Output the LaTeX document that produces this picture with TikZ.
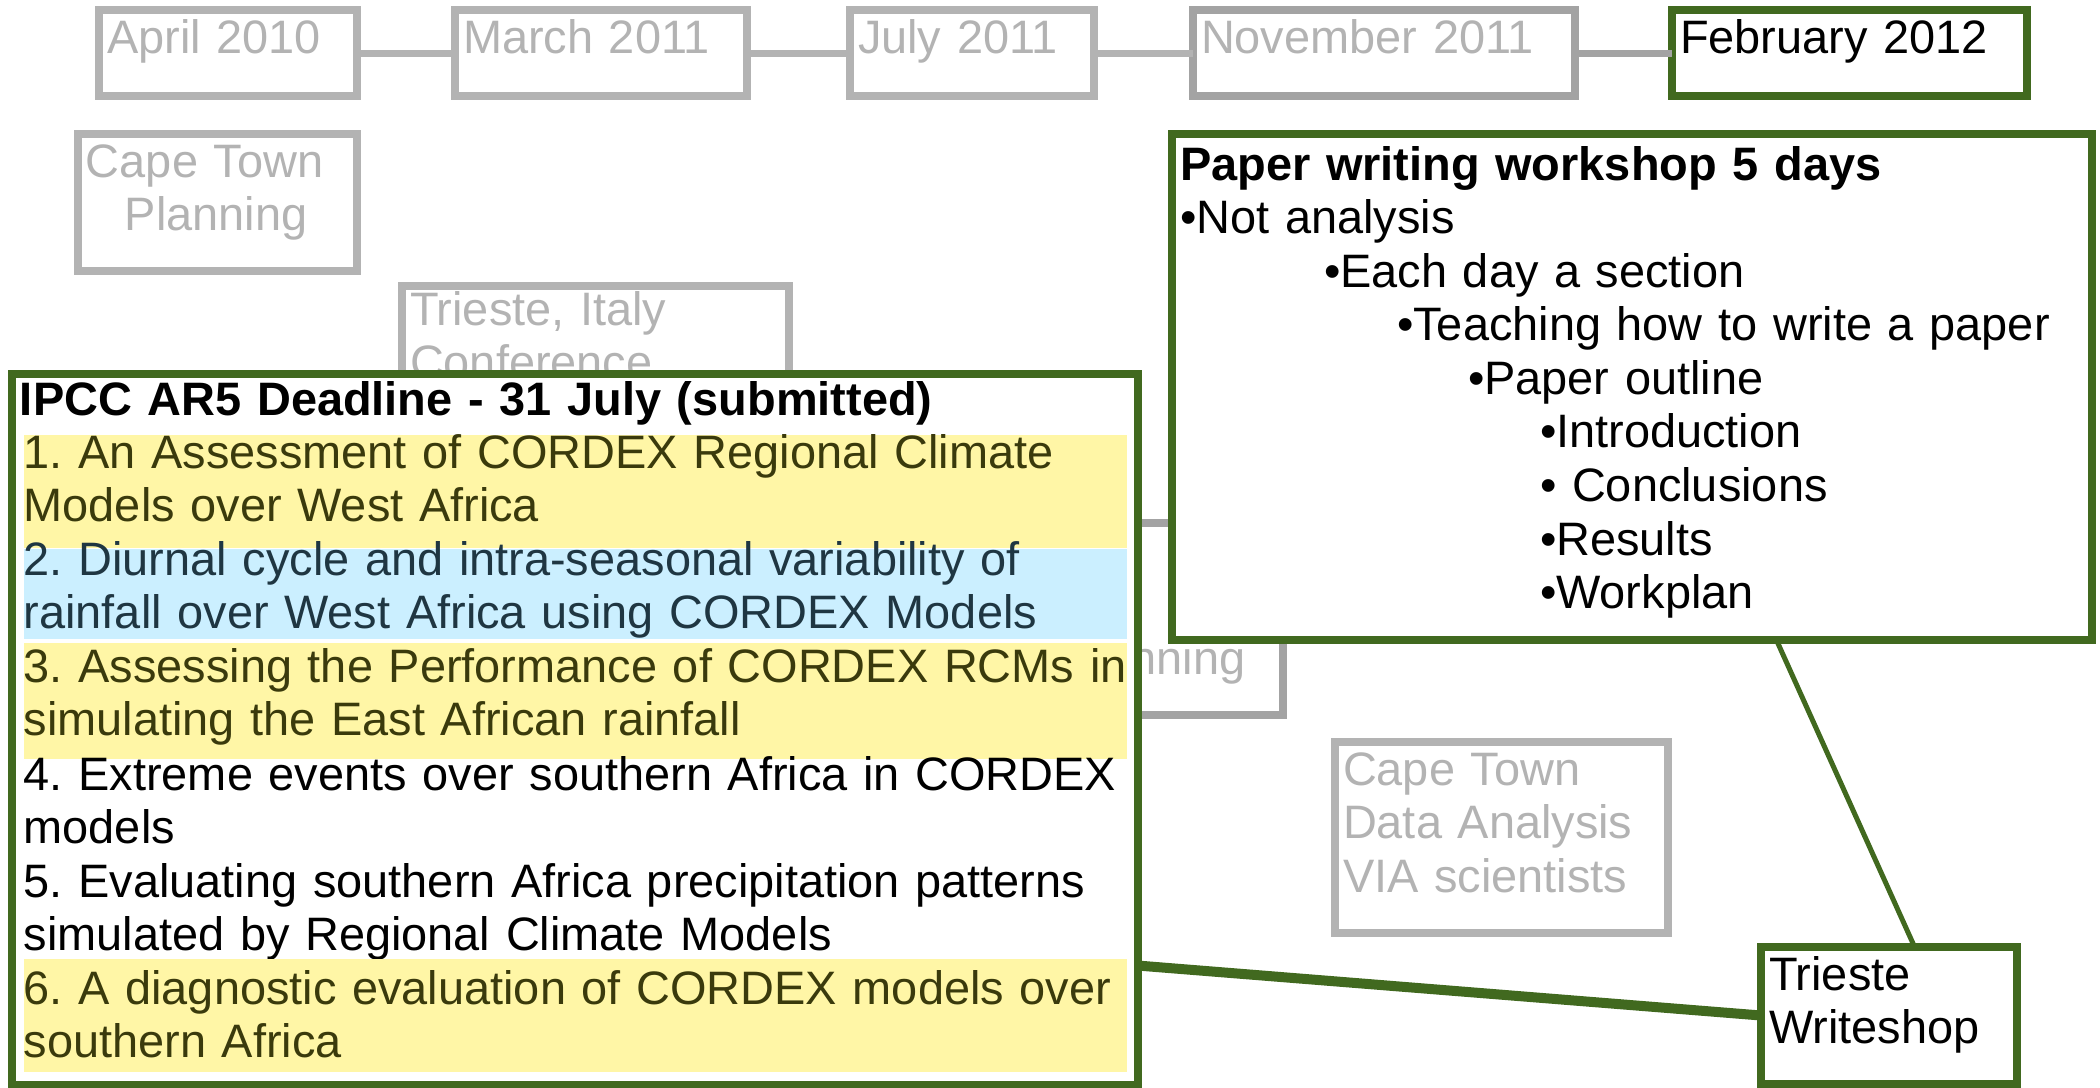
\documentclass[tikz,border=0pt]{standalone}
\usepackage{fontspec}
\setmainfont{Liberation Sans}
\usetikzlibrary{positioning, calc}
\definecolor{BoxGray}{HTML}{B3B3B3}
\definecolor{BoxGrayDark}{HTML}{A3A3A3}
\definecolor{BoxGreen}{HTML}{41691F}
\definecolor{MarkYellow}{HTML}{FFF6A6}
\definecolor{MarkBlue}{HTML}{CBEFFF}
\definecolor{InkOlive}{HTML}{3A3A0C}
\definecolor{InkSlate}{HTML}{1F3642}
\frenchspacing

\begin{document}
\begin{tikzpicture}[
    every node/.style={font=\fontsize{13.35}{15.25}\selectfont\frenchspacing},
    box/.style={draw=BoxGray, text=BoxGray, line width=0.08cm, fill=white, anchor=north west, align=left,
                inner xsep=0.08cm, inner ysep=0.07cm, outer sep=0pt, text height=0.36cm},
    nowbox/.style={box, draw=BoxGreen, text=black},
    item/.style={anchor=base west, inner sep=0pt, text width=11.03cm, align=left},
    tline/.style={draw=BoxGray, line width=0.07cm},
    gline/.style={draw=BoxGreen, line width=0.05cm}
  ]
  \useasboundingbox (0,0) rectangle (21,-10.88);

  % Timeline
  \node[box, text width=2.42cm, text depth=0.36cm] (apr) at (0.99,-0.10) {April 2010};
  \node[box, text width=2.76cm, text depth=0.36cm] (mar) at (4.55,-0.10) {March 2011};
  \node[box, text width=2.28cm, text depth=0.36cm] (jul) at (8.50,-0.10) {July 2011};
  \node[box, draw=BoxGrayDark, text width=3.66cm, text depth=0.36cm] (nov) at (11.93,-0.10) {November 2011};
  \node[nowbox, text width=3.39cm, text depth=0.36cm] (feb) at (16.72,-0.10) {February 2012};
  \foreach \a/\b in {apr/mar, mar/jul, jul/nov} {
    \draw[tline] (\a) -- (\b);
  }
  \draw[tline, draw=BoxGrayDark] (nov) -- (feb);

  % Past meetings
  \node[box, text width=2.63cm, text depth=0.87cm] (ctplan) at (0.78,-1.34) {Cape Town\\\hspace*{0.39cm}Planning};
  \node[box, text width=3.71cm, text height=0.32cm, text depth=1.44cm] (tsconf) at (4.02,-2.86) {Trieste, Italy\\Conference};
  \node[box, draw=BoxGrayDark, minimum width=2.33cm, minimum height=1.92cm] (nplan) at (10.50,-5.23) {};
  \node[anchor=base west, inner sep=0pt, text=BoxGray] (nplantext) at (10.62,-6.74) {Planning};
  \node[box, text width=3.17cm, text depth=1.41cm] (ctdata) at (13.35,-7.42) {Cape Town\\Data Analysis\\VIA scientists};

  % IPCC papers
  \node[nowbox, text width=11.10cm, text height=0.34cm, text depth=6.63cm,
        font=\fontsize{13.35}{15.25}\selectfont\bfseries] (ipcc) at (0.12,-3.74) {IPCC AR5 Deadline - 31 July (submitted)};
  \node[item, fill=MarkYellow, text=InkOlive, text height=0.33cm, text depth=0.80cm] (ipcc1) at (0.23,-4.68)
    {\mbox{1. An Assessment of CORDEX Regional Climate}\\Models over West Africa};
  \node[item, fill=MarkBlue, text=InkSlate, text height=0.26cm, text depth=0.64cm] (ipcc2) at (0.23,-5.75)
    {\mbox{2. Diurnal cycle and intra-seasonal variability of}\\\mbox{rainfall over West Africa using CORDEX Models}};
  \node[item, fill=MarkYellow, text=InkOlive, text height=0.39cm, text depth=0.77cm] (ipcc3) at (0.23,-6.82)
    {\mbox{3. Assessing the Performance of CORDEX RCMs in}\\simulating the East African rainfall};
  \node[item] (ipcc4) at (0.23,-7.90) {\mbox{4. Extreme events over southern Africa in CORDEX}\\models};
  \node[item] (ipcc5) at (0.23,-8.97) {\mbox{5. Evaluating southern Africa precipitation patterns}\\simulated by Regional Climate Models};
  \node[item, fill=MarkYellow, text=InkOlive, text height=0.45cm, text depth=0.68cm] (ipcc6) at (0.23,-10.04)
    {\mbox{6. A diagnostic evaluation of CORDEX models over}\\southern Africa};

  % Workshop
  \node[nowbox, text width=9.04cm, text height=0.39cm, text depth=4.53cm] (wshop) at (11.72,-1.34)
    {\textbf{Paper writing workshop 5 days}\\•Not analysis\\
     \hspace*{1.44cm}•Each day a section\\
     \hspace*{2.17cm}•Teaching how to write a paper\\
     \hspace*{2.88cm}•Paper outline\\
     \hspace*{3.60cm}•Introduction\\
     \hspace*{3.60cm}• Conclusions\\
     \hspace*{3.60cm}•Results\\
     \hspace*{3.60cm}•Workplan};
  \node[nowbox, text width=2.40cm, text depth=0.87cm] (writeshop) at (17.61,-9.47) {Trieste\\Writeshop};

  % Links
  \draw[gline] ($(wshop.south west)!0.657!(wshop.south east)$) -- ($(writeshop.north west)!0.6!(writeshop.north east)$);
  \draw[gline, line width=0.10cm] ($(ipcc.north east)!0.832!(ipcc.south east)$) -- (writeshop.west);
\end{tikzpicture}
\end{document}
